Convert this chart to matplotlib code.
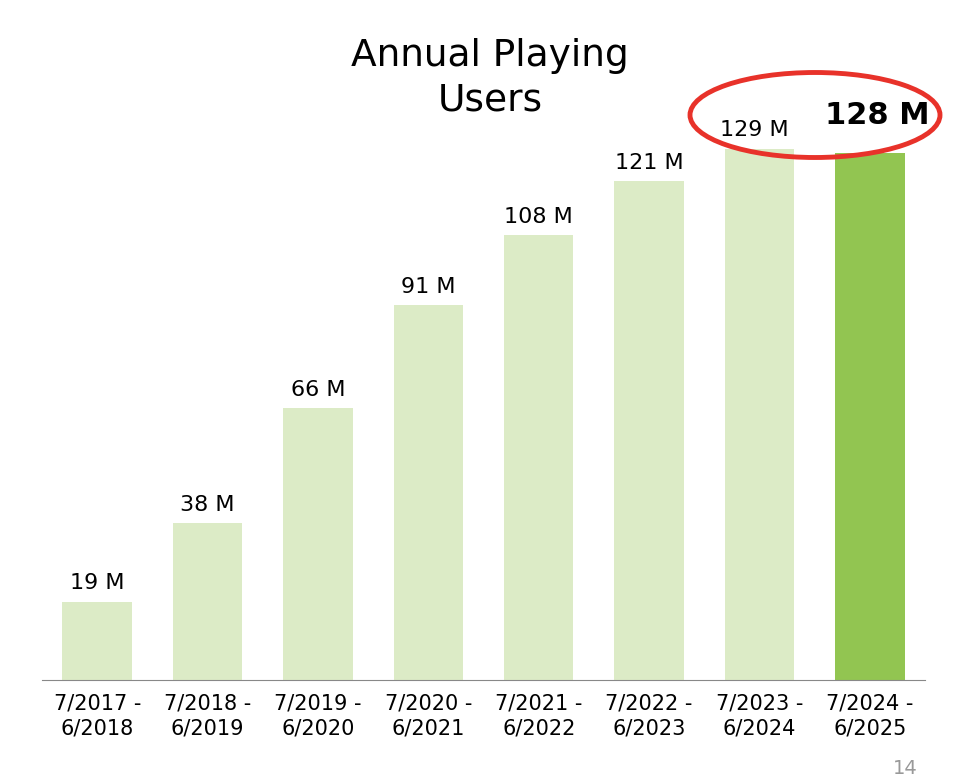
import matplotlib
matplotlib.use("Agg")
import matplotlib.pyplot as plt
from matplotlib.patches import Ellipse

periods = ["7/2017 -\n6/2018","7/2018 -\n6/2019","7/2019 -\n6/2020","7/2020 -\n6/2021",
           "7/2021 -\n6/2022","7/2022 -\n6/2023","7/2023 -\n6/2024","7/2024 -\n6/2025"]
users = [19, 38, 66, 91, 108, 121, 129, 128]
labels = ["19 M","38 M","66 M","91 M","108 M","121 M","129 M","128 M"]

W, H = 974, 780
fig = plt.figure(figsize=(W/100, H/100), dpi=100)
ax = fig.add_axes([42/W, 1-680/H, (925-42)/W, 618/H])
colors = ["#dcebc6"]*7 + ["#92c551"]
x = list(range(len(users)))
ax.bar(x, users, width=0.63, color=colors, zorder=2)
ax.set_xlim(-0.5, 7.5)
ax.set_ylim(0, 150)
for s in ["top","right","left"]:
    ax.spines[s].set_visible(False)
ax.spines["bottom"].set_color("#888888")
ax.set_yticks([])
ax.set_xticks(x)
ax.set_xticklabels(periods, fontsize=15, linespacing=1.3)
ax.tick_params(axis="x", length=0, pad=10)
for i, (v, l) in enumerate(zip(users, labels)):
    if i == 7:
        ax.text(i+0.07, v+5.5, l, ha="center", va="bottom", fontsize=22, fontweight="bold")
    elif i == 6:
        ax.text(i-0.05, v+2, l, ha="center", va="bottom", fontsize=16)
    else:
        ax.text(i, v+2, l, ha="center", va="bottom", fontsize=16)
fig.text(490/W, 1-78/H, "Annual Playing\nUsers", ha="center", va="center", fontsize=27, linespacing=1.3)
e = Ellipse((815/W, 1-115/H), 250/W, 85/H, transform=fig.transFigure, fill=False,
            edgecolor="#e8322a", lw=3.5, zorder=5)
fig.add_artist(e)
fig.text(905/W, 1-768/H, "14", ha="center", va="center", fontsize=14, color="#999999")
fig.savefig("out.png", dpi=100)
